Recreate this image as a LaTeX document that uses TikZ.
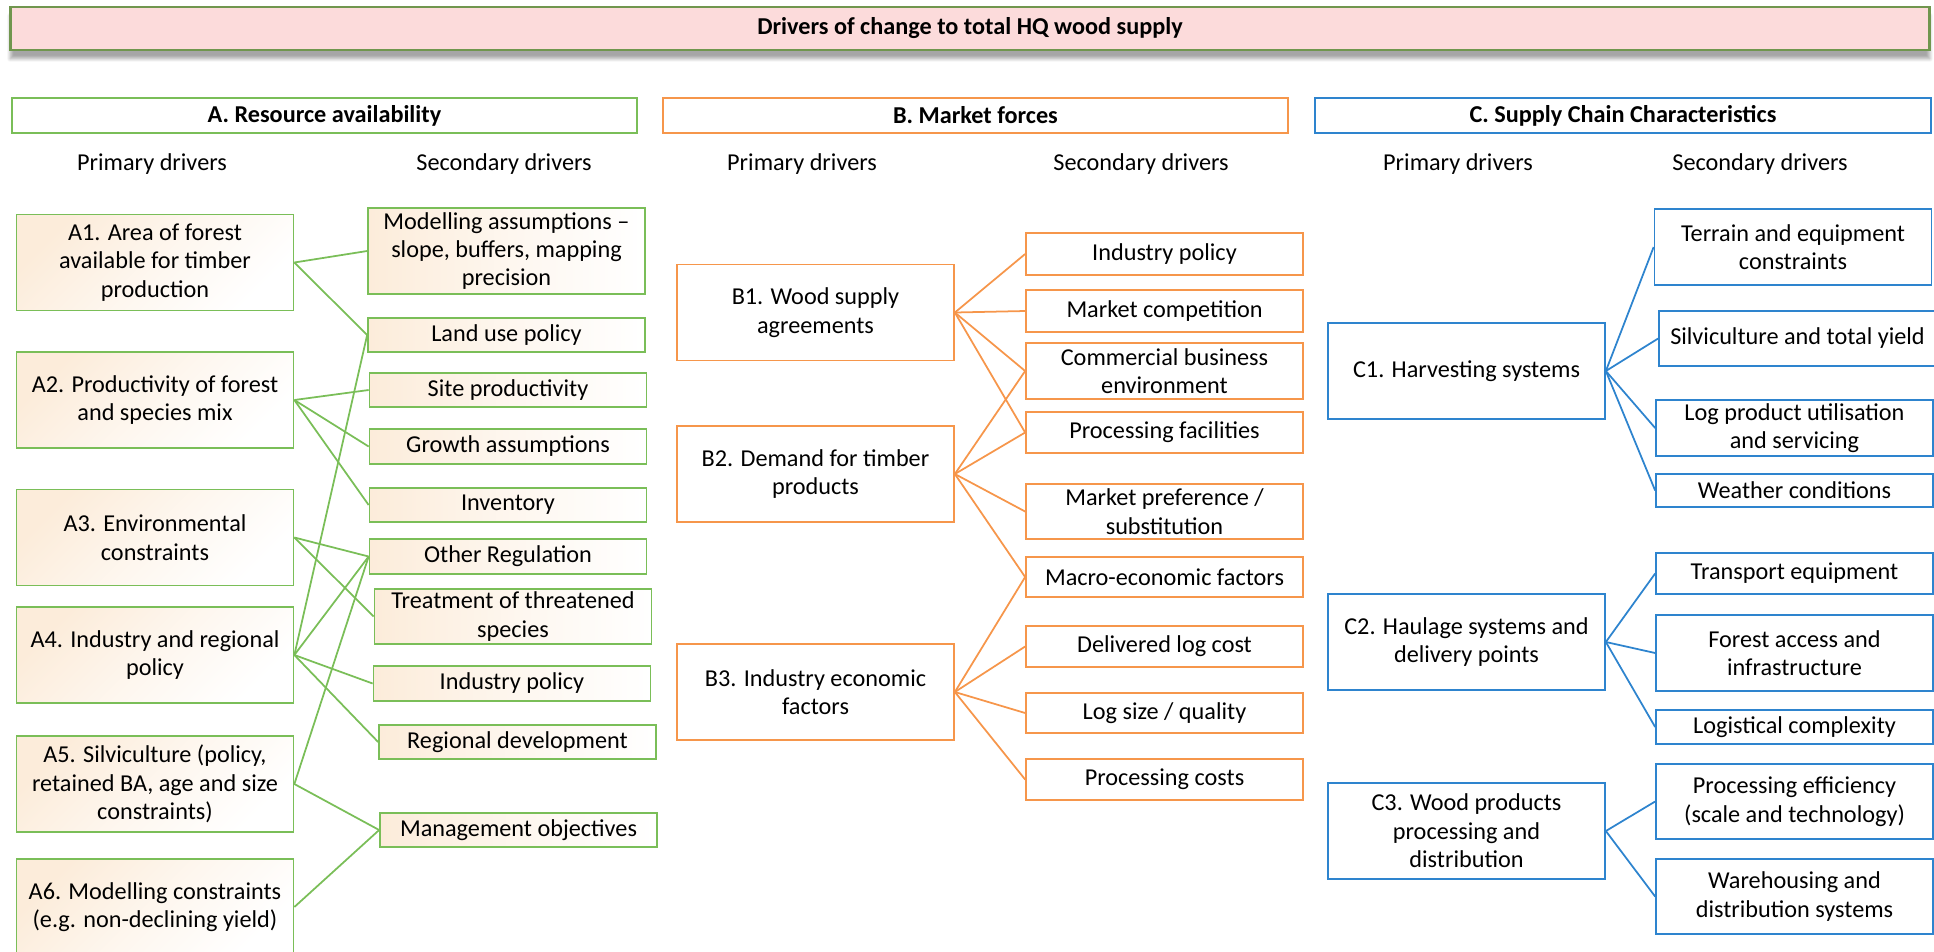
\documentclass[tikz,border=0pt]{standalone}
\usepackage{fontspec}
\setmainfont{Carlito}
\usetikzlibrary{shadows.blur}

\definecolor{resgreen}{RGB}{122,190,88}
\definecolor{mktorange}{RGB}{246,150,75}
\definecolor{scblue}{RGB}{46,132,206}
\definecolor{titlepink}{RGB}{252,219,219}
\definecolor{titlegreen}{RGB}{112,150,78}
\definecolor{peach}{RGB}{252,236,218}

\begin{document}
\begin{tikzpicture}[x=0.02cm,y=-0.02cm,
  every node/.style={font=\fontsize{13.8}{16.2}\selectfont},
  box/.style={draw,line width=1pt,align=center,inner sep=1pt,minimum width=5.54cm},
  prim/.style={box,minimum height=1.92cm},
  abox/.style={draw=resgreen,left color=peach,right color=white,middle color=white!55!peach},
  aprim/.style={abox,shading angle=45},
  bbox/.style={draw=mktorange,fill=white},
  cbox/.style={draw=scblue,fill=white},
  head/.style={draw,line width=1pt,minimum height=0.7cm,inner sep=1pt,font=\fontsize{13.8}{16.2}\selectfont\bfseries},
  link/.style={line width=1pt}]
\useasboundingbox (0,0) rectangle (1934,951);
\clip (0,0) rectangle (1934,951);

% title and section headers
\node[head,draw=titlegreen,line width=1.6pt,fill=titlepink,minimum width=38.4cm,minimum height=0.86cm,blur shadow={shadow xshift=0pt,shadow yshift=-5pt,shadow blur steps=8,shadow opacity=35}] (title) at (970,28.5) {Drivers of change to total HQ wood supply};
\node[head,draw=resgreen,minimum width=12.5cm] (hA) at (324.5,115.5) {A. Resource availability};
\node[head,draw=mktorange,minimum width=12.5cm] (hB) at (975.5,115.5) {B. Market forces};
\node[head,draw=scblue,minimum width=12.32cm] (hC) at (1623,115.5) {C. Supply Chain Characteristics};

\node (lpa) at (152,164) {Primary drivers};
\node (lsa) at (504,164) {Secondary drivers};
\node (lpb) at (802,164) {Primary drivers};
\node (lsb) at (1141,164) {Secondary drivers};
\node (lpc) at (1458,164) {Primary drivers};
\node (lsc) at (1760,164) {Secondary drivers};

% A. resource availability
\node[prim,aprim] (a1) at (155,262.5) {A1. Area of forest\\available for timber\\production};
\node[prim,aprim] (a2) at (155,400) {A2. Productivity of forest\\and species mix};
\node[prim,aprim] (a3) at (155,537.5) {A3. Environmental\\constraints};
\node[prim,aprim] (a4) at (155,655) {A4. Industry and regional\\policy};
\node[prim,aprim] (a5) at (155,784) {A5. Silviculture (policy,\\retained BA, age and size\\constraints)};
\node[prim,aprim] (a6) at (155,907) {A6. Modelling constraints\\(e.g. non-declining yield)};

\node[box,abox,minimum height=1.72cm] (sa01) at (506.5,251) {Modelling assumptions --\\slope, buffers, mapping\\precision};
\node[box,abox,minimum height=0.68cm] (sa02) at (506.5,335) {Land use policy};
\node[box,abox,minimum height=0.68cm] (sa03) at (508,390) {Site productivity};
\node[box,abox,minimum height=0.7cm] (sa04) at (508,446.5) {Growth assumptions};
\node[box,abox,minimum height=0.68cm] (sa05) at (508,505) {Inventory};
\node[box,abox,minimum height=0.7cm] (sa06) at (508,556.5) {Other Regulation};
\node[box,abox,minimum height=1.1cm] (sa07) at (513,616.5) {Treatment of threatened\\species};
\node[box,abox,minimum height=0.7cm] (sa08) at (512,683.5) {Industry policy};
\node[box,abox,minimum height=0.68cm] (sa09) at (517.5,742) {Regional development};
\node[box,abox,minimum height=0.68cm] (sa10) at (518.5,830) {Management objectives};

\draw[link,resgreen] (a1.east) -- (sa01.west);
\draw[link,resgreen] (a1.east) -- (sa02.west);
\draw[link,resgreen] (a2.east) -- (sa03.west);
\draw[link,resgreen] (a2.east) -- (sa04.west);
\draw[link,resgreen] (a2.east) -- (sa05.west);
\draw[link,resgreen] (a3.east) -- (sa06.west);
\draw[link,resgreen] (a3.east) -- (sa07.west);
\draw[link,resgreen] (a4.east) -- (sa02.west);
\draw[link,resgreen] (a4.east) -- (sa06.west);
\draw[link,resgreen] (a4.east) -- (sa08.west);
\draw[link,resgreen] (a4.east) -- (sa09.west);
\draw[link,resgreen] (a5.east) -- (sa06.west);
\draw[link,resgreen] (a5.east) -- (sa10.west);
\draw[link,resgreen] (a6.east) -- (sa10.west);

% B. market forces
\node[prim,bbox] (b1) at (815.5,312.5) {B1. Wood supply\\agreements};
\node[prim,bbox] (b2) at (815.5,474) {B2. Demand for timber\\products};
\node[prim,bbox] (b3) at (815.5,692) {B3. Industry economic\\factors};

\node[box,bbox,minimum height=0.84cm] (sb01) at (1164.5,254) {Industry policy};
\node[box,bbox,minimum height=0.84cm] (sb02) at (1164.5,311) {Market competition};
\node[box,bbox,minimum height=1.12cm] (sb03) at (1164.5,371) {Commercial business\\environment};
\node[box,bbox,minimum height=0.82cm] (sb04) at (1164.5,432.5) {Processing facilities};
\node[box,bbox,minimum height=1.1cm] (sb05) at (1164.5,511.5) {Market preference /\\substitution};
\node[box,bbox,minimum height=0.8cm] (sb06) at (1164.5,577) {Macro-economic factors};
\node[box,bbox,minimum height=0.82cm] (sb07) at (1164.5,646.5) {Delivered log cost};
\node[box,bbox,minimum height=0.8cm] (sb08) at (1164.5,713) {Log size / quality};
\node[box,bbox,minimum height=0.82cm] (sb09) at (1164.5,779.5) {Processing costs};

\draw[link,mktorange] (b1.east) -- (sb01.west);
\draw[link,mktorange] (b1.east) -- (sb02.west);
\draw[link,mktorange] (b1.east) -- (sb03.west);
\draw[link,mktorange] (b1.east) -- (sb04.west);
\draw[link,mktorange] (b2.east) -- (sb03.west);
\draw[link,mktorange] (b2.east) -- (sb04.west);
\draw[link,mktorange] (b2.east) -- (sb05.west);
\draw[link,mktorange] (b2.east) -- (sb06.west);
\draw[link,mktorange] (b3.east) -- (sb06.west);
\draw[link,mktorange] (b3.east) -- (sb07.west);
\draw[link,mktorange] (b3.east) -- (sb08.west);
\draw[link,mktorange] (b3.east) -- (sb09.west);

% C. supply chain
\node[prim,cbox] (c1) at (1466.5,371) {C1. Harvesting systems};
\node[prim,cbox] (c2) at (1466.5,642) {C2. Haulage systems and\\delivery points};
\node[prim,cbox] (c3) at (1466.5,831) {C3. Wood products\\processing and\\distribution};

\node[box,cbox,minimum height=1.52cm] (sc01) at (1793,247) {Terrain and equipment\\constraints};
\node[box,cbox,minimum height=1.1cm] (sc02) at (1797.5,338.5) {Silviculture and total yield};
\node[box,cbox,minimum height=1.12cm] (sc03) at (1794.5,428) {Log product utilisation\\and servicing};
\node[box,cbox,minimum height=0.66cm] (sc04) at (1794.5,490.5) {Weather conditions};
\node[box,cbox,minimum height=0.82cm] (sc05) at (1794.5,573.5) {Transport equipment};
\node[box,cbox,minimum height=1.52cm] (sc06) at (1794.5,653) {Forest access and\\infrastructure};
\node[box,cbox,minimum height=0.68cm] (sc07) at (1794.5,727) {Logistical complexity};
\node[box,cbox,minimum height=1.5cm] (sc08) at (1794.5,801.5) {Processing efficiency\\(scale and technology)};
\node[box,cbox,minimum height=1.5cm] (sc09) at (1794.5,896.5) {Warehousing and\\distribution systems};

\draw[link,scblue] (c1.east) -- (sc01.west);
\draw[link,scblue] (c1.east) -- (sc02.west);
\draw[link,scblue] (c1.east) -- (sc03.west);
\draw[link,scblue] (c1.east) -- (sc04.west);
\draw[link,scblue] (c2.east) -- (sc05.west);
\draw[link,scblue] (c2.east) -- (sc06.west);
\draw[link,scblue] (c2.east) -- (sc07.west);
\draw[link,scblue] (c3.east) -- (sc08.west);
\draw[link,scblue] (c3.east) -- (sc09.west);
\end{tikzpicture}
\end{document}
